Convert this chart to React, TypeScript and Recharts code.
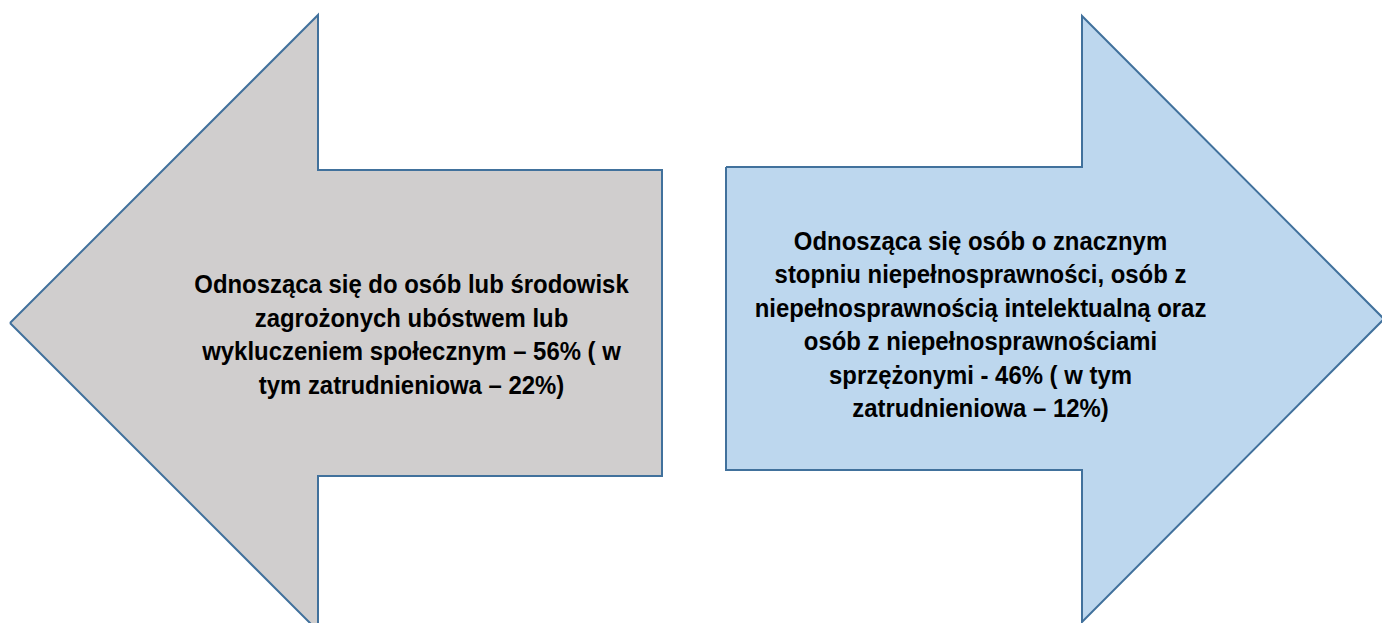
import React from 'react'
import { ComposedChart, Area, Line, XAxis, YAxis, ReferenceArea, Label } from 'recharts'

// arrow shapes in page pixels (x to the right, y downward)
const leftArrowFill = [
  { x: 10, band: [323, 323] },
  { x: 318, band: [15, 631] },
  { x: 318, band: [170, 476] },
  { x: 662, band: [170, 476] },
]
const leftArrowOutline = [
  { x: 10, y: 323 },
  { x: 318, y: 15 },
  { x: 318, y: 170 },
  { x: 662, y: 170 },
  { x: 662, y: 476 },
  { x: 318, y: 476 },
  { x: 318, y: 631 },
  { x: 10, y: 323 },
]

const rightArrowFill = [
  { x: 726, band: [167, 470] },
  { x: 1082, band: [167, 470] },
  { x: 1082, band: [16, 622] },
  { x: 1384, band: [319, 319] },
]
const rightArrowOutline = [
  { x: 726, y: 167 },
  { x: 1082, y: 167 },
  { x: 1082, y: 16 },
  { x: 1384, y: 319 },
  { x: 1082, y: 622 },
  { x: 1082, y: 470 },
  { x: 726, y: 470 },
  { x: 726, y: 167 },
]

const leftLines = [
  'Odnosząca się do osób lub środowisk',
  'zagrożonych ubóstwem lub',
  'wykluczeniem społecznym – 56% ( w',
  'tym zatrudnieniowa – 22%)',
]
const rightLines = [
  'Odnosząca się osób o znacznym',
  'stopniu niepełnosprawności, osób z',
  'niepełnosprawnością intelektualną oraz',
  'osób z niepełnosprawnościami',
  'sprzężonymi - 46% ( w tym',
  'zatrudnieniowa – 12%)',
]

const W = 1382
const H = 623
const LINE_H = 33.5

const outline = '#41719C'

// text looks a bit condensed in the original, so squeeze it horizontally
function TextBlock(lines: string[]) {
  return (props: any) => {
    const vb = props.viewBox
    const cx = vb.x + vb.width / 2
    const cy = vb.y + vb.height / 2
    const top = cy - ((lines.length - 1) * LINE_H) / 2
    return (
      <g>
        {lines.map((l, i) => (
          <text
            key={i}
            x={0}
            y={0}
            transform={`translate(${cx},${top + i * LINE_H}) scale(0.92,1)`}
            textAnchor="middle"
            dominantBaseline="central"
            fontFamily="'Liberation Sans', Arial, sans-serif"
            fontWeight="bold"
            fontSize={26}
            fill="#000"
          >
            {l}
          </text>
        ))}
      </g>
    )
  }
}

export default function App() {
  return (
    <div style={{ position: 'absolute', left: 0, top: 0, background: '#fff' }}>
      <ComposedChart width={W} height={H} margin={{ top: 0, right: 0, bottom: 0, left: 0 }}>
        <XAxis type="number" dataKey="x" domain={[0, W]} hide allowDataOverflow />
        <YAxis type="number" domain={[0, H]} reversed hide allowDataOverflow />
        <Area
          data={leftArrowFill}
          dataKey="band"
          type="linear"
          fill="#D0CECE"
          fillOpacity={1}
          stroke="none"
          isAnimationActive={false}
          dot={false}
          activeDot={false}
        />
        <Area
          data={rightArrowFill}
          dataKey="band"
          type="linear"
          fill="#BDD7EE"
          fillOpacity={1}
          stroke="none"
          isAnimationActive={false}
          dot={false}
          activeDot={false}
        />
        <Line
          data={leftArrowOutline}
          dataKey="y"
          type="linear"
          stroke={outline}
          strokeWidth={2}
          dot={false}
          activeDot={false}
          isAnimationActive={false}
        />
        <Line
          data={rightArrowOutline}
          dataKey="y"
          type="linear"
          stroke={outline}
          strokeWidth={2}
          dot={false}
          activeDot={false}
          isAnimationActive={false}
        />
        <ReferenceArea x1={193} x2={630} y1={284} y2={384} fill="none" stroke="none" ifOverflow="visible">
          <Label content={TextBlock(leftLines)} />
        </ReferenceArea>
        <ReferenceArea x1={753} x2={1208} y1={274} y2={374} fill="none" stroke="none" ifOverflow="visible">
          <Label content={TextBlock(rightLines)} />
        </ReferenceArea>
      </ComposedChart>
    </div>
  )
}
